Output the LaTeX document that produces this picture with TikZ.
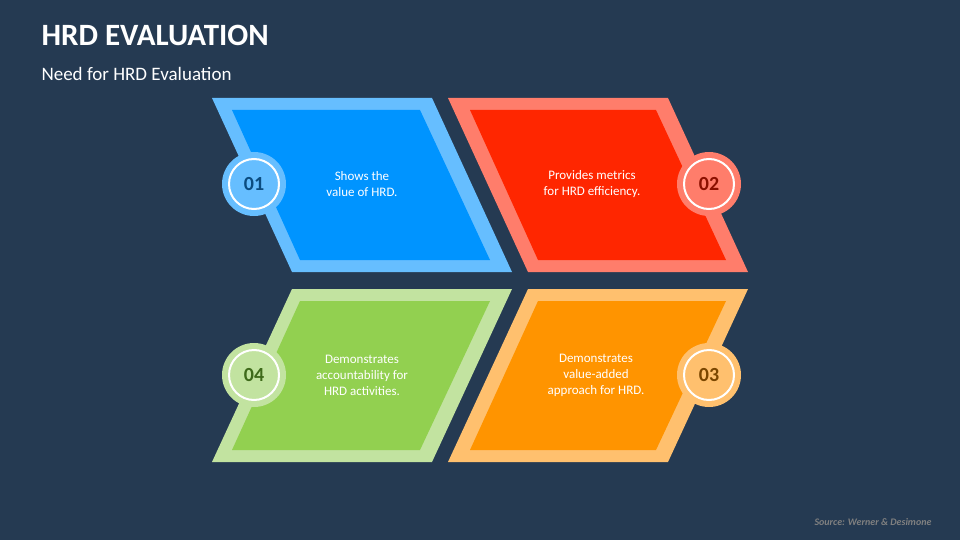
\documentclass[tikz,border=0pt]{standalone}
\usepackage{fontspec}
\setmainfont{Carlito}
\definecolor{bg}{HTML}{253A52}
\definecolor{bO}{HTML}{66BEFF}\definecolor{bI}{HTML}{0094FF}\definecolor{bT}{HTML}{0B4C80}
\definecolor{rO}{HTML}{FF7D6B}\definecolor{rI}{HTML}{FF2600}\definecolor{rT}{HTML}{8B1000}
\definecolor{gO}{HTML}{C2E3A0}\definecolor{gI}{HTML}{92D050}\definecolor{gT}{HTML}{3E6A1A}
\definecolor{oO}{HTML}{FFC06E}\definecolor{oI}{HTML}{FF9400}\definecolor{oT}{HTML}{7A4600}
\begin{document}
\begin{tikzpicture}[x=1pt,y=-1pt,
  txt/.style={text=white,align=center,font=\fontsize{13}{16}\selectfont},
  num/.style={circle,minimum size=64pt,font=\bfseries\fontsize{20}{20}\selectfont}]
\fill[bg] (0,0) rectangle (960,540);
\useasboundingbox (0,0) rectangle (960,540);
\node[anchor=west,text=white,font=\bfseries\fontsize{31}{31}\selectfont] (t) at (38,35) {HRD EVALUATION};
\node[anchor=west,text=white,font=\fontsize{19}{19}\selectfont] (s) at (38,74) {Need for HRD Evaluation};
% top-left
\fill[bO] (212,98)--(432,98)--(512,272)--(292,272)--cycle;
\fill[bI] (232,110)--(420,110)--(490,260)--(300,260)--cycle;
% top-right
\fill[rO] (448,98)--(668,98)--(748,272)--(528,272)--cycle;
\fill[rI] (470,110)--(656,110)--(726,260)--(538,260)--cycle;
% bottom-left
\fill[gO] (292,289)--(512,289)--(432,462)--(212,462)--cycle;
\fill[gI] (300,301)--(490,301)--(420,450)--(232,450)--cycle;
% bottom-right
\fill[oO] (528,289)--(748,289)--(668,462)--(448,462)--cycle;
\fill[oI] (538,301)--(726,301)--(656,450)--(470,450)--cycle;
\node[txt] (a) at (362,184) {Shows the\\value of HRD.};
\node[txt] (b) at (592,184) {Provides metrics\\for HRD efficiency.};
\node[txt] (c) at (362,375) {Demonstrates\\accountability for\\HRD activities.};
\node[txt] (d) at (596,375) {Demonstrates\\value-added\\approach for HRD.};
\foreach \n/\x/\y/\o/\t in {1/254/184/bO/bT,2/709/184/rO/rT,4/254/375/gO/gT,3/709/375/oO/oT}{
  \node[num,fill=\o,text=\t] (n\n) at (\x,\y) {0\n};
  \draw[white,line width=2pt] (n\n.center) circle (25);
}
\node[anchor=east,text=gray,font=\bfseries\itshape\fontsize{10}{10}\selectfont] (src) at (935,522) {Source: Werner \& Desimone};
\end{tikzpicture}
\end{document}
